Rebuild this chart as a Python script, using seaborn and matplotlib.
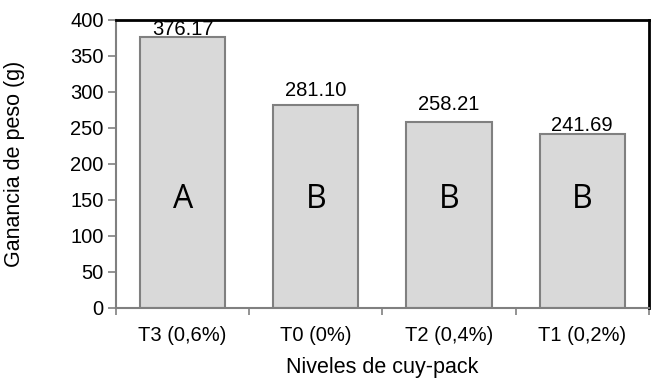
import matplotlib
matplotlib.use("Agg")
import matplotlib.pyplot as plt
import numpy as np
import pandas as pd
import seaborn as sns

# datos
tratamientos = ["T3 (0,6%)", "T0 (0%)", "T2 (0,4%)", "T1 (0,2%)"]
ganancia = [376.17, 281.10, 258.21, 241.69]
letras = ["A", "B", "B", "B"]
y_ticks = [0, 50, 100, 150, 200, 250, 300, 350, 400]

# desplazamiento de las etiquetas (estilo, como en el original)
label_offset = [-3, 8, 11, -1]

df = pd.DataFrame({"trat": tratamientos, "gan": ganancia})

sns.set_style("white")
plt.rcParams['font.family'] = ['Liberation Sans', 'DejaVu Sans']
plt.rcParams['text.color'] = 'black'
plt.rcParams['axes.labelcolor'] = 'black'
plt.rcParams['xtick.labelcolor'] = 'black'
plt.rcParams['ytick.labelcolor'] = 'black'

fig = plt.figure(figsize=(6.52, 3.81), dpi=100)
ax = fig.add_axes([0.178, 0.192, 0.817, 0.756])

sns.barplot(data=df, x="trat", y="gan", color="#d9d9d9", edgecolor="#808080",
            linewidth=1.5, width=0.64, saturation=1, ax=ax)

for i, (v, l) in enumerate(zip(ganancia, letras)):
    ax.text(i, v + label_offset[i], f"{v:.2f}", ha="center", va="bottom",
            fontsize=14.5, color="black")
    ax.text(i, 150, l, ha="center", va="center", fontsize=23,
            family="Open Sans", color="black")

ax.set_ylim(0, 400)
ax.set_xlim(-0.5, 3.5)
ax.set_yticks(y_ticks)
ax.set_xlabel("Niveles de cuy-pack", fontsize=15.5, labelpad=9)
ax.set_ylabel("Ganancia de peso (g)", fontsize=15.5)
ax.yaxis.set_label_coords(-0.17, 0.5)
ax.tick_params(axis="y", labelsize=14.5, length=6, width=1.2, color="#808080",
               direction="out", left=True, pad=3)
ax.tick_params(axis="x", labelsize=14.5, length=0, pad=13)
ax.set_xticks(np.arange(-0.5, 4, 1), minor=True)
ax.tick_params(axis="x", which="minor", length=5, width=1.2, color="#808080",
               bottom=True, direction="out")

for s in ["left", "bottom"]:
    ax.spines[s].set_color("#808080")
    ax.spines[s].set_linewidth(1.5)
for s in ["top", "right"]:
    ax.spines[s].set_color("black")
    ax.spines[s].set_linewidth(2)

fig.savefig("out.png", dpi=100)
